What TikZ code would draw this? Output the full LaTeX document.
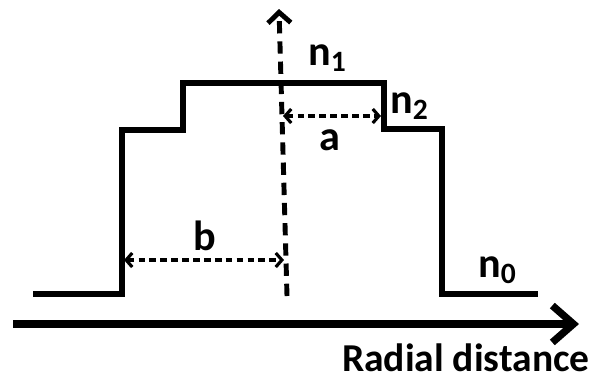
\documentclass[tikz,border=0pt]{standalone}
\usepackage{fontspec}
\setmainfont{Carlito}
\usetikzlibrary{arrows.meta}

\begin{document}
\begin{tikzpicture}[
  x=0.02cm, y=-0.02cm,
  profile/.style={
    line width=3.8pt,
    line join=miter
  },
  dimline/.style={
    line width=1.8pt,
    dash pattern=on 3.8pt off 2.4pt,
    {Straight Barb[length=3.5pt,width=8pt,line width=1.8pt]}-{Straight Barb[length=3.5pt,width=8pt,line width=1.8pt]}
  },
  lbl/.style={
    font=\bfseries\fontsize{24}{26}\selectfont,
    inner sep=0pt
  }
]
\useasboundingbox (0,0) rectangle (598,380);

% step index profile
\coordinate (c1) at (33,294);
\coordinate (c2) at (122,294);
\coordinate (c3) at (122,130);
\coordinate (c4) at (183,130);
\coordinate (c5) at (183,83);
\coordinate (c6) at (384,83);
\coordinate (c7) at (384,129);
\coordinate (c8) at (442,129);
\coordinate (c9) at (442,294);
\coordinate (c10) at (538,294);
\draw[profile] (c1) -- (c2) -- (c3) -- (c4) -- (c5) -- (c6) -- (c7) -- (c8) -- (c9) -- (c10);

% fibre axis
\coordinate (axbot) at (287,296);
\coordinate (axtop) at (279,9);
\draw[line width=2.8pt, dash pattern=on 7pt off 4.5pt,
  -{Straight Barb[length=6pt,width=13pt,line width=2.8pt]}] (axbot) -- (axtop);

% radial axis
\coordinate (rstart) at (13,324);
\coordinate (rend) at (579,324);
\draw[line width=4.2pt, -{Straight Barb[length=12pt,width=21pt,line width=4.2pt]}] (rstart) -- (rend);
\node[lbl, font=\bfseries\fontsize{22.5}{26}\selectfont, anchor=base east] (radial) at (590,371) {Radial distance};

% radii
\coordinate (aleft) at (283,116);
\coordinate (aright) at (381,116);
\draw[dimline] (aleft) -- (aright);
\node[lbl, anchor=base] (alabel) at (330,150) {a};

\coordinate (bleft) at (124,260);
\coordinate (bright) at (284,260);
\draw[dimline] (bleft) -- (bright);
\node[lbl, anchor=base] (blabel) at (205,250) {b};

% indices
\node[lbl, anchor=base west] (none) at (308,65) {n\textsubscript{1}};
\node[lbl, anchor=base west] (ntwo) at (390,113) {n\textsubscript{2}};
\node[lbl, anchor=base west] (nzero) at (478,277) {n\textsubscript{0}};

\end{tikzpicture}
\end{document}
